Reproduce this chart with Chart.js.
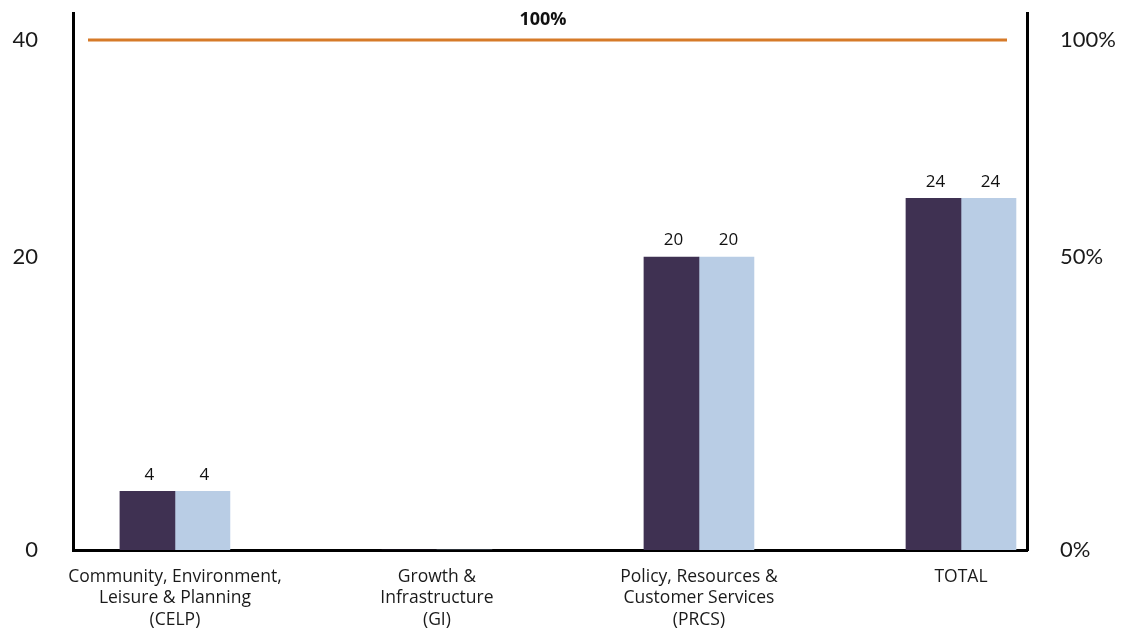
<!DOCTYPE html>
<html>
<head>
<meta charset="utf-8">
<script src="https://cdn.jsdelivr.net/npm/chart.js@4.4.1/dist/chart.umd.min.js"></script>
<style>
  html, body { margin: 0; padding: 0; background: #ffffff; }
  #wrap { width: 1125px; height: 635px; }
</style>
</head>
<body>
<div id="wrap"><canvas id="c" width="1125" height="635"></canvas></div>
<script>
// ---- data ----
const categories = [
  ["Community, Environment,", "Leisure & Planning", "(CELP)"],
  ["Growth &", "Infrastructure", "(GI)"],
  ["Policy, Resources &", "Customer Services", "(PRCS)"],
  ["TOTAL"]
];
const seriesA = [4, 0, 20, 24];   // dark bars
const seriesB = [4, 0, 20, 24];   // light bars
const targetValue = 100;          // percent reference line
const leftTickLabels = ["0", "20", "40"];
const rightTickLabels = ["0%", "50%", "100%"];
const tickAnchors = [0, 20, 34.8];   // count-axis values where the tick labels sit

const X_MIN = -0.389, X_MAX = 3.252;
const Y_MAX = 36.65;
const Y2_MAX = Y_MAX / tickAnchors[2] * 100;

const FONT = "Lato, 'Open Sans', sans-serif";
const CAT_FONT = "'Open Sans', Lato, sans-serif";

const valueLabels = {
  id: 'valueLabels',
  afterDatasetsDraw(chart) {
    const ctx = chart.ctx;
    ctx.save();
    ctx.fillStyle = '#111';
    ctx.textAlign = 'center';
    ctx.textBaseline = 'bottom';
    chart.data.datasets.forEach((ds, di) => {
      if (ds.type !== 'bar') return;
      const meta = chart.getDatasetMeta(di);
      ctx.font = '17px ' + CAT_FONT;
      meta.data.forEach((el, i) => {
        const v = ds.data[i].y;
        if (!v) return;
        ctx.fillText(String(v), el.x + 2, el.y - 8);
      });
    });
    chart.data.datasets.forEach((ds, di) => {
      if (ds.type !== 'line') return;
      const meta = chart.getDatasetMeta(di);
      const a = meta.data[0], b = meta.data[meta.data.length - 1];
      ctx.font = 'bold 18px ' + CAT_FONT;
      ctx.fillText(ds.data[0].y + '%', (a.x + b.x) / 2 - 7, a.y - 11);
    });
    ctx.restore();
  }
};

new Chart(document.getElementById('c'), {
  data: {
    datasets: [
      {
        type: 'bar',
        label: 'A',
        data: seriesA.map((v, i) => ({ x: i, y: v })),
        backgroundColor: '#3F3152',
        xAxisID: 'x', yAxisID: 'y',
        barThickness: 55,
        order: 2
      },
      {
        type: 'bar',
        label: 'B',
        data: seriesB.map((v, i) => ({ x: i, y: v })),
        backgroundColor: '#B9CDE5',
        xAxisID: 'x', yAxisID: 'y',
        barThickness: 55,
        order: 2
      },
      {
        type: 'line',
        label: 'Target',
        data: [{ x: X_MIN, y: targetValue }, { x: X_MAX, y: targetValue }],
        borderColor: '#D67A29',
        borderWidth: 3,
        pointRadius: 0,
        xAxisID: 'x', yAxisID: 'y2',
        clip: { left: -15, right: -20, top: 10, bottom: 0 },
        order: 1
      }
    ]
  },
  options: {
    responsive: false,
    animation: false,
    layout: { padding: { left: 0, right: 0, top: 13, bottom: 0 } },
    plugins: { legend: { display: false }, tooltip: { enabled: false } },
    scales: {
      x: {
        type: 'linear',
        offset: false,
        min: X_MIN,
        max: X_MAX,
        grid: { display: false, drawTicks: false, offset: false },
        border: { display: true, color: '#000', width: 3 },
        afterBuildTicks: (s) => { s.ticks = categories.map((_, i) => ({ value: i })); },
        afterFit: (s) => { s.height = 85; s.paddingLeft = 0; s.paddingRight = 0; },
        ticks: {
          autoSkip: false,
          maxRotation: 0,
          padding: 16,
          color: '#1a1a1a',
          font: { family: CAT_FONT, size: 17.5, lineHeight: 1.23 },
          callback: (v) => categories[v]
        }
      },
      y: {
        position: 'left',
        min: 0,
        max: Y_MAX,
        grid: { display: false, drawTicks: false },
        border: { display: true, color: '#000', width: 3 },
        afterBuildTicks: (s) => { s.ticks = tickAnchors.map((v) => ({ value: v })); },
        afterFit: (s) => { s.width = 73; s.paddingTop = 0; s.paddingBottom = 0; },
        ticks: {
          padding: 35,
          color: '#1a1a1a',
          font: { family: FONT, size: 22 },
          callback: (v, i) => leftTickLabels[i]
        }
      },
      y2: {
        position: 'right',
        min: 0,
        max: Y2_MAX,
        grid: { display: false, drawTicks: false },
        border: { display: true, color: '#000', width: 3 },
        afterBuildTicks: (s) => { s.ticks = tickAnchors.map((v) => ({ value: v / tickAnchors[2] * 100 })); },
        afterFit: (s) => { s.width = 98; s.paddingTop = 0; s.paddingBottom = 0; },
        ticks: {
          padding: 33,
          color: '#1a1a1a',
          font: { family: FONT, size: 22 },
          callback: (v, i) => rightTickLabels[i]
        }
      }
    }
  },
  plugins: [valueLabels]
});
</script>
</body>
</html>
